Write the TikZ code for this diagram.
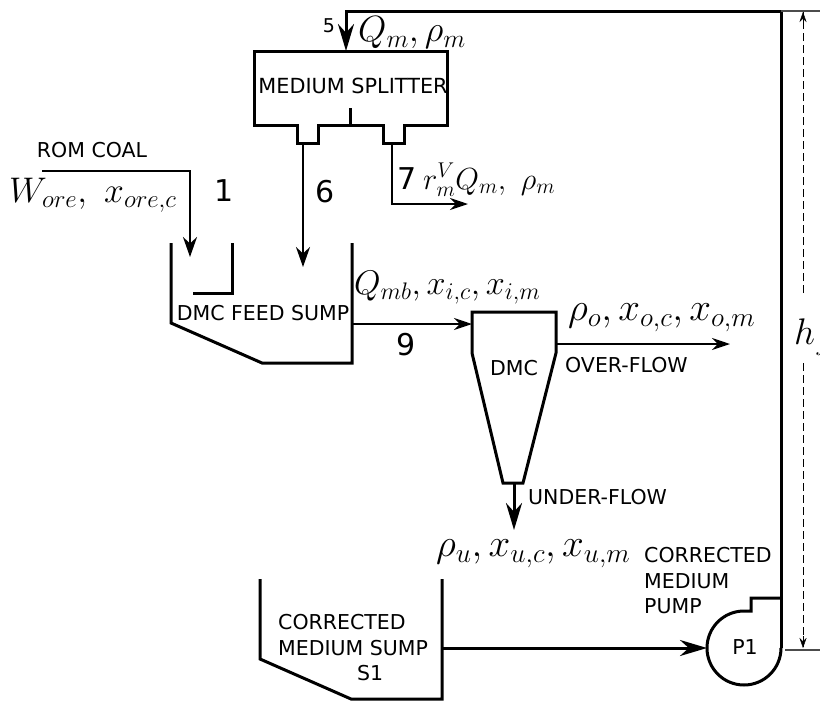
\documentclass[tikz,border=0pt]{standalone}
\usepackage{fix-cm}
\usepackage{amsmath,amssymb}
\usepackage{fontspec}
\setmainfont{DejaVu Sans}
\usetikzlibrary{arrows.meta,positioning,calc}
\tikzset{
  bigflow/.style={-{Stealth[length=27pt,width=16pt]}, line width=3pt},
  flow/.style={-{Stealth[length=20pt,width=14pt]}, line width=2.4pt},
  thinflow/.style={-{Stealth[length=18pt,width=12pt]}, line width=2.2pt},
  wall/.style={line width=3pt, line join=miter},
  dimtick/.style={line width=1.1pt, black!70},
  dimline/.style={dashed, dash pattern=on 8pt off 4pt, line width=0.9pt},
  dimtip/.style={-{Stealth[length=10pt,width=7pt]}},
  lab/.style={font=\fontsize{20.5}{25.5}\selectfont, inner sep=0pt},
  num/.style={font=\fontsize{30}{32}\selectfont, inner sep=0pt},
  eqn/.style={font=\fontsize{#1}{#1}\selectfont, inner sep=0pt, anchor=west},
}
\begin{document}
\begin{tikzpicture}[x=1pt, y=-1pt]
\useasboundingbox (0,0) rectangle (820,702);
% medium splitter
\draw[wall] (254,51) -- (447,51) -- (447,125) -- (404,125) -- (404,143) -- (383,143) -- (383,125) -- (318,125) -- (318,143) -- (297,143) -- (297,125) -- (254,125) -- cycle;
\draw[wall] (350,125) -- (350,108);
\coordinate (splitin) at (346,51);
\coordinate (portsix) at (303,143);
\coordinate (portseven) at (392,143);
\node[font=\fontsize{20.8}{25}\selectfont, inner sep=0pt] (splitlab) at (353,86) {MEDIUM SPLITTER};
% dmc feed sump
\draw[wall] (171,243) -- (171,323) -- (262,363) -- (352,363) -- (352,243);
\draw[wall] (232,243) -- (232,293) -- (193,293);
\coordinate (sumpin) at (190,257);
\coordinate (sumpsix) at (303,267);
\coordinate (sumpout) at (352,324);
\node[lab] (sumplab) at (263,313) {DMC FEED SUMP};
% dmc
\draw[wall] (472,312) -- (556,312) -- (556,353) -- (523,483) -- (503,483) -- (472,353) -- cycle;
\coordinate (dmcin) at (472,324);
\coordinate (dmcover) at (556,344);
\coordinate (dmcunder) at (514,483);
\node[lab] (dmclab) at (514,368) {DMC};
% corrected medium sump
\draw[wall] (260,579) -- (260,659) -- (351,699) -- (442,699) -- (442,579);
\coordinate (corrout) at (442,648);
\node[lab, align=left, anchor=west] (corrlab) at (278,648) {CORRECTED\\MEDIUM SUMP\\\hspace*{79pt}S1};
% pump
\node[circle, minimum size=74pt, inner sep=0pt, outer sep=0pt] (pump) at (744,648) {};
\draw[wall] (781,598) -- (751,598) -- (751,611) -- (pump.north) arc[start angle=90, end angle=360, radius=37pt];
\node[lab] (pumplab) at (745,647) {P1};
\node[lab, align=left, anchor=west] (pumptxt) at (644,581) {CORRECTED\\MEDIUM\\PUMP};
% streams
\coordinate (romstart) at (42,171);
\coordinate (romcorner) at (190,171);
\coordinate (sevencorner) at (392,204);
\coordinate (sevenend) at (468,204);
\coordinate (overend) at (730,344);
\coordinate (underend) at (514,530);
\coordinate (pumpout) at (781,648);
\coordinate (topright) at (781,11);
\coordinate (topleft) at (346,11);
\draw[bigflow] (pumpout) -- (topright) -- (topleft) -- (splitin);
\draw[flow] (romstart) -- (romcorner) -- (sumpin);
\draw[flow] (portsix) -- (sumpsix);
\draw[thinflow] (portseven) -- (sevencorner) -- (sevenend);
\draw[thinflow] (sumpout) -- (dmcin);
\draw[thinflow] (dmcover) -- (overend);
\draw[bigflow] (dmcunder) -- (underend);
\draw[bigflow] (corrout) -- (pump.west);
% height
\coordinate (dimtop) at (803,12);
\coordinate (dimbot) at (803,648);
\coordinate (dimgapa) at (803,293);
\coordinate (dimgapb) at (803,363);
\draw[dimtick] (781,11) -- (820,11);
\draw[dimtick] (785,650) -- (820,650);
\draw[dimline] (dimgapa) -- (dimtop);
\draw[dimline] (dimgapb) -- (dimbot);
\draw[dimtip] (803,24) -- (dimtop);
\draw[dimtip] (803,636) -- (dimbot);
\node[eqn=37] (hlab) at (794,337) {$h_f$};
% labels
\node[lab] (romlab) at (92,150) {ROM COAL};
\node[eqn=35.6] (orelab) at (9,195) {$W_{ore},\ x_{ore,c}$};
\node[num] (onelab) at (224,191) {1};
\node[num] (sixlab) at (325,192) {6};
\node[num] (sevenlab) at (407,179) {7};
\node[num] (ninelab) at (406,345) {9};
\node[font=\fontsize{19}{20}\selectfont, inner sep=0pt] (fivelab) at (329,26) {5};
\node[eqn=36.5] (qmlab) at (358,33) {$Q_m,\rho_m$};
\node[eqn=30.5] (rlab) at (423,180) {$r_m^V Q_m,\ \rho_m$};
\node[eqn=34.2] (mblab) at (354,288) {$Q_{mb},x_{i,c},x_{i,m}$};
\node[eqn=39] (olab) at (568,318) {$\rho_o,x_{o,c},x_{o,m}$};
\node[lab, anchor=west] (overlab) at (565,365) {OVER-FLOW};
\node[lab, anchor=west] (underlab) at (528,497) {UNDER-FLOW};
\node[eqn=39] (ulab) at (436,554) {$\rho_u,x_{u,c},x_{u,m}$};
\end{tikzpicture}
\end{document}
